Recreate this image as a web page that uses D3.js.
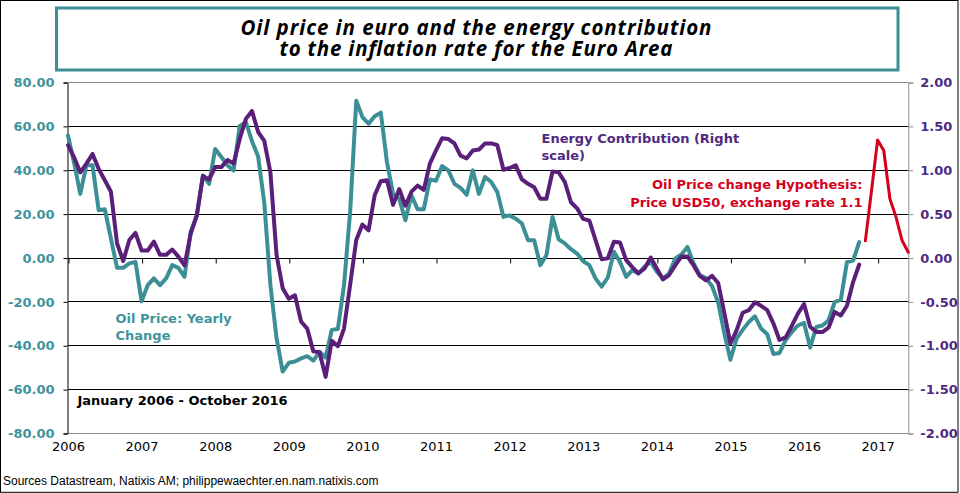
<!DOCTYPE html>
<html>
<head>
<meta charset="utf-8">
<script src="https://cdn.jsdelivr.net/npm/d3@7"></script>
<style>
  html, body { margin: 0; padding: 0; background: #fff; }
  svg { display: block; }
</style>
</head>
<body>
<svg id="chart" width="960" height="493"></svg>
<script>
// ---------------- DATA ----------------
const startYear = 2006;
const yearLabels = ["2006","2007","2008","2009","2010","2011","2012","2013","2014","2015","2016","2017"];
const leftTicks = [80, 60, 40, 20, 0, -20, -40, -60, -80];
const rightTicks = [2, 1.5, 1, 0.5, 0, -0.5, -1, -1.5, -2];

// Oil price in euro, yearly change (%), Jan 2006 - Oct 2016 (left scale)
const oilPrice = [
  55.6, 43, 29, 42, 42, 21.5, 22, 8.6, -4.7, -4.7, -2.7, -2,
  -20, -12.6, -9.5, -12.6, -9.5, -3.5, -4.7, -8.8, 11.7, 19, 37.4, 33.6,
  49.5, 45.8, 42, 39.7, 60, 61.7, 53, 46, 25, -12.6, -36.8, -52,
  -48, -47.4, -46, -45, -47, -43, -45.6, -33, -32.6, -12.6, 20.8, 71.5,
  64, 61, 64.4, 66, 43.5, 29, 26.8, 17, 28.3, 22, 22, 35.6,
  35, 41.7, 39.7, 33.6, 31.7, 28.6, 39.7, 29, 36.7, 34.4, 29.8, 18.5,
  19.2, 17.7, 15.5, 7.9, 7.9, -3.5, 1, 18.5, 8.3, 6.4, 3.8, 1.8,
  -1.7, -3.5, -9.5, -13.3, -9.2, 2.6, -2, -8.8, -5.8, -7.3, -4.2, -2,
  -6.5, -9.5, -7.3, -0.5, 1.4, 4.8, -2.7, -8, -9.4, -13, -20.5, -34.5,
  -46.6, -37, -33, -29.4, -26.8, -32.4, -35, -44, -43.5, -37.7, -34, -31,
  -29.8, -41, -31.7, -31, -28.6, -20.3, -19.2, -2.1, -1.4, 7
];

// Energy contribution to euro-area inflation (pp), Jan 2006 - Oct 2016 (right scale)
const energyContribution = [
  1.28, 1.14, 0.97, 1.07, 1.18, 1.01, 0.88, 0.75, 0.16, -0.04, 0.20, 0.28,
  0.08, 0.08, 0.18, 0.03, 0.03, 0.09, 0.01, -0.09, 0.27, 0.48, 0.93, 0.89,
  1.03, 1.03, 1.11, 1.07, 1.35, 1.58, 1.67, 1.43, 1.33, 0.97, 0.03, -0.35,
  -0.47, -0.43, -0.73, -0.81, -1.07, -1.08, -1.36, -0.95, -1.01, -0.81, -0.31, 0.20,
  0.375, 0.31, 0.71, 0.87, 0.88, 0.60, 0.78, 0.59, 0.75, 0.82, 0.77, 1.07,
  1.22, 1.36, 1.35, 1.30, 1.16, 1.13, 1.22, 1.23, 1.30, 1.30, 1.28, 1.00,
  1.02, 1.05, 0.89, 0.84, 0.80, 0.67, 0.67, 0.98, 0.97, 0.86, 0.63, 0.56,
  0.44, 0.42, 0.20, -0.02, -0.01, 0.18, 0.17, -0.03, -0.11, -0.18, -0.125, 0,
  -0.125, -0.25, -0.2, -0.09, 0.01, 0.01, -0.09, -0.21, -0.26, -0.21, -0.29, -0.63,
  -0.98, -0.83, -0.63, -0.6, -0.51, -0.55, -0.6, -0.75, -0.94, -0.91, -0.78, -0.64,
  -0.53, -0.79, -0.85, -0.85, -0.8, -0.62, -0.66, -0.55, -0.28, -0.08
];

// Hypothesis: oil at USD50, EUR/USD 1.1, Nov 2016 - Jun 2017 (right scale)
const hypothesisStart = 130;
const hypothesis = [0.19, 0.76, 1.34, 1.22, 0.67, 0.46, 0.19, 0.06];

// ---------------- CHART ----------------
const teal = "#3b8f95", purple = "#5b1f7a", red = "#d5001c";
const tealText = "#3f949c", purpleText = "#4f2a80";
const svg = d3.select("#chart");
const W = 960, H = 493;
const plot = { left: 68, right: 908.3, top: 82, bottom: 433 };
const fmt2 = v => d3.format(".2f")(v).replace("\u2212", "-");

svg.append("rect").attr("x", 0).attr("y", 0).attr("width", W).attr("height", H).attr("fill", "#fff");
svg.append("rect").attr("x", 0.5).attr("y", 0.5).attr("width", 957.5).attr("height", 491.8)
  .attr("fill", "none").attr("stroke", "#000").attr("stroke-width", 1);

const x = d3.scaleLinear().domain([0, 137]).range([plot.left, plot.right]);
const yL = d3.scaleLinear().domain([-80, 80]).range([plot.bottom, plot.top]);
const yR = d3.scaleLinear().domain([-2, 2]).range([plot.bottom, plot.top]);

// gridlines
svg.append("g").selectAll("line").data(leftTicks.filter(d => d !== 80 && d !== -80)).join("line")
  .attr("x1", plot.left).attr("x2", plot.right)
  .attr("y1", d => Math.round(yL(d)) + 0.5).attr("y2", d => Math.round(yL(d)) + 0.5)
  .attr("stroke", "#000").attr("stroke-width", 1);
// top and bottom border lines (gray)
[80, -80].forEach(v => {
  svg.append("line").attr("x1", plot.left).attr("x2", plot.right)
    .attr("y1", Math.round(yL(v)) + 0.5).attr("y2", Math.round(yL(v)) + 0.5)
    .attr("stroke", "#8c8c8c").attr("stroke-width", 1);
});

// left axis
const leftAxis = d3.axisLeft(yL).tickValues(leftTicks).tickSize(4).tickPadding(9).tickFormat(fmt2);
const gL = svg.append("g").attr("transform", `translate(${plot.left - 0.5},0.5)`).call(leftAxis);
gL.select(".domain").attr("stroke", "#000");
gL.selectAll(".tick line").attr("stroke", "#000");
gL.selectAll("text").attr("fill", tealText).attr("font-family", "DejaVu Sans, Verdana, sans-serif")
  .attr("font-size", 13).attr("font-weight", "bold");

// right axis
const rightAxis = d3.axisRight(yR).tickValues(rightTicks).tickSize(5).tickPadding(7).tickFormat(fmt2);
const gR = svg.append("g").attr("transform", `translate(${plot.right},0.5)`).call(rightAxis);
gR.select(".domain").attr("stroke", "#8c8c8c");
gR.selectAll(".tick line").attr("stroke", "#8c8c8c");
gR.selectAll("text").attr("fill", purpleText).attr("font-family", "DejaVu Sans, Verdana, sans-serif")
  .attr("font-size", 13).attr("font-weight", "bold").attr("text-anchor", "start");

// x axis ticks at zero line, labels at bottom
const yearIdx = yearLabels.map((d, i) => i * 12);
const xAxisTicks = d3.axisBottom(x).tickValues(yearIdx).tickSize(5).tickFormat("");
const gX = svg.append("g").attr("transform", `translate(0.5,${Math.round(yL(0)) + 0.5})`).call(xAxisTicks);
gX.select(".domain").remove();
gX.selectAll(".tick line").attr("stroke", "#000");
const xLabels = d3.axisBottom(x).tickValues(yearIdx).tickSize(0).tickPadding(0)
  .tickFormat((d, i) => yearLabels[i]);
const gXL = svg.append("g").attr("transform", `translate(0,${plot.bottom + 9})`).call(xLabels);
gXL.select(".domain").remove();
gXL.selectAll("text").attr("fill", "#000").attr("font-family", "DejaVu Sans, Verdana, sans-serif")
  .attr("font-size", 13).attr("dy", "0.71em");

// lines
const lineL = d3.line().x((d, i) => x(i)).y(d => yL(d));
const lineR = d3.line().x((d, i) => x(i)).y(d => yR(d));
const lineH = d3.line().x((d, i) => x(hypothesisStart + i)).y(d => yR(d));

svg.append("path").datum(oilPrice).attr("d", lineL).attr("fill", "none")
  .attr("stroke", teal).attr("stroke-width", 4).attr("stroke-linejoin", "round").attr("stroke-linecap", "round");
svg.append("path").datum(energyContribution).attr("d", lineR).attr("fill", "none")
  .attr("stroke", purple).attr("stroke-width", 4).attr("stroke-linejoin", "round").attr("stroke-linecap", "round");
svg.append("path").datum(hypothesis).attr("d", lineH).attr("fill", "none")
  .attr("stroke", red).attr("stroke-width", 3).attr("stroke-linejoin", "round").attr("stroke-linecap", "round");

// annotations
const ann = (lines, xPos, y0, dy, color, anchor) => {
  const t = svg.append("text").attr("font-family", "DejaVu Sans, Verdana, sans-serif")
    .attr("font-size", 13).attr("font-weight", "bold").attr("fill", color).attr("text-anchor", anchor);
  lines.forEach((l, i) => t.append("tspan").attr("x", xPos).attr("y", y0 + i * dy).text(l));
};
ann(["Energy Contribution (Right", "scale)"], 541.5, 143, 16.5, purpleText, "start");
ann(["Oil Price change Hypothesis:", "Price USD50, exchange rate 1.1"], 862.5, 189, 17.5, red, "end");
ann(["Oil Price: Yearly", "Change"], 115.5, 323, 16.5, tealText, "start");
ann(["January 2006  - October 2016"], 77.5, 405, 0, "#000", "start");

// source
svg.append("text").attr("x", 3).attr("y", 485).attr("font-family", "Liberation Sans, Arial, sans-serif")
  .attr("font-size", 12).attr("fill", "#000")
  .text("Sources Datastream, Natixis AM;  philippewaechter.en.nam.natixis.com");

// title box
svg.append("rect").attr("x", 56.5).attr("y", 8).attr("width", 841.5).attr("height", 62)
  .attr("fill", "#fff").attr("stroke", teal).attr("stroke-width", 3);
const titleLines = ["Oil price in euro and the energy contribution", "to the inflation rate for the Euro Area"];
const titleWidths = [471, 393];
const titleY = [34.5, 56];
const titleFamily = "'Open Sans', Lato, sans-serif";
titleLines.forEach((l, i) => {
  svg.append("text").attr("font-family", titleFamily)
    .attr("font-weight", "bold").attr("font-style", "italic").attr("font-size", 20.5)
    .attr("fill", "#000").attr("text-anchor", "middle").attr("x", 476).attr("y", titleY[i])
    .attr("textLength", titleWidths[i]).attr("lengthAdjust", "spacing").text(l);
});
</script>
</body>
</html>
